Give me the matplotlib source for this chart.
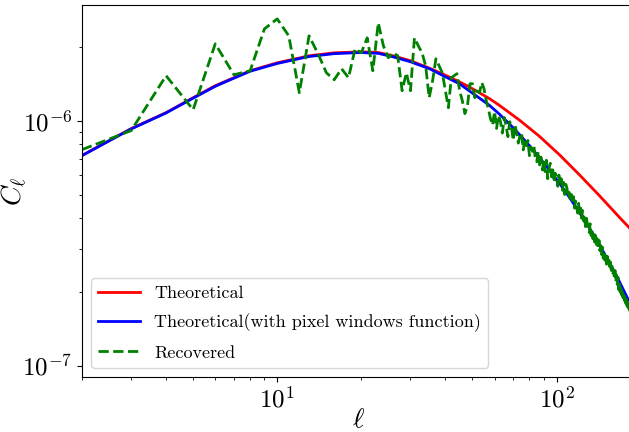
import numpy as np
import matplotlib
matplotlib.use("Agg")
import matplotlib.pyplot as plt

plt.rcParams['font.family'] = 'serif'
plt.rcParams['font.serif'] = ['cmr10', 'DejaVu Serif']
plt.rcParams['mathtext.fontset'] = 'cm'
plt.rcParams['axes.unicode_minus'] = False

# theoretical spectrum
ell_th = [2, 2.5, 3, 4, 5, 6, 7, 8, 10, 12, 13, 16, 20, 23, 26, 30, 35.1, 40,
          44.9, 48.8, 57.5, 62.4, 73.6, 86.9, 102.6, 120.9, 142.6, 168.2, 191]
cl_th = [7.21e-7, 8.29e-7, 9.28e-7, 1.078e-6, 1.24e-6, 1.388e-6, 1.496e-6,
         1.597e-6, 1.721e-6, 1.80e-6, 1.838e-6, 1.89e-6, 1.908e-6, 1.895e-6,
         1.838e-6, 1.754e-6, 1.636e-6, 1.532e-6, 1.439e-6, 1.371e-6,
         1.230e-6, 1.155e-6, 1.006e-6, 8.63e-7, 7.25e-7, 6.01e-7, 4.94e-7,
         4.03e-7, 3.46e-7]

# theoretical with pixel window function
ell_pw = [2, 2.5, 3, 4, 5, 6, 7, 8, 10, 12, 13, 16, 20, 23, 26, 30, 35.1, 40,
          44.9, 57.5, 62.4, 67.8, 73.6, 80, 86.9, 94.4, 102.6, 111.4, 120.9,
          131.4, 142.6, 154.9, 168.2, 181.2, 191]
cl_pw = [7.2e-7, 8.27e-7, 9.25e-7, 1.075e-6, 1.235e-6, 1.38e-6, 1.49e-6,
         1.59e-6, 1.71e-6, 1.79e-6, 1.825e-6, 1.875e-6, 1.895e-6, 1.88e-6,
         1.82e-6, 1.737e-6, 1.627e-6, 1.509e-6, 1.414e-6, 1.155e-6,
         1.064e-6, 9.70e-7, 8.79e-7, 7.91e-7, 7.07e-7, 6.28e-7, 5.54e-7,
         4.86e-7, 4.22e-7, 3.64e-7, 3.11e-7, 2.63e-7, 2.20e-7, 1.85e-7,
         1.64e-7]

# recovered spectrum, l = 2..191, in units of 1e-7
ell_rec = np.arange(2, 192)
cl_rec = [
    7.62, 9.11, 15.24, 11.08, 20.56, 15.38, 15.97, 23.66, 25.98, 22.16,
    12.99, 22.16, 18.73, 15.67, 14.68, 16.27, 14.96, 19.62, 18.90, 21.75,
    15.97, 25.03, 20.18, 18.04, 18.90, 18.38, 13.24, 15.67, 13.24, 21.75,
    20.18, 18.90, 16.73, 12.40, 14.54, 17.87, 16.73, 15.67, 13.24, 11.29,
    14.96, 15.24, 15.53, 13.24, 12.06, 10.68, 11.51, 14.14, 14.14,
    12.4, 13.2, 13.0, 14.3, 13.5, 12.1, 11.2,
    10.2, 9.6, 10.9, 9.3, 10.5, 9.9, 8.9, 10.3, 9.5, 8.6, 9.9, 9.4, 8.3, 9.6, 8.9,
    8.1, 8.7, 8.9, 7.6, 8.4, 7.9, 8.3, 7.2, 7.8, 7.5, 7.9, 7.0, 6.8, 7.5, 6.6,
    7.1, 6.3, 6.9,
    6.2, 6.9, 5.8, 6.4, 6.7, 5.9, 6.3, 5.6, 6.1, 5.9, 5.4, 6.0, 5.5, 5.8, 5.2,
    5.6, 5.0, 5.5, 5.3, 4.9,
    5.1, 4.7, 5.0, 4.6, 4.9, 4.4, 4.7, 4.5, 4.2, 4.6, 4.1, 4.4, 4.0, 4.3, 3.9,
    4.1, 3.7, 4.0, 3.8, 3.6,
    3.5, 3.8, 3.4, 3.6, 3.3, 3.5, 3.2, 3.4, 3.1, 3.3, 3.0, 3.25, 2.95, 3.1, 2.85,
    3.05, 2.75, 2.95, 2.7, 2.85, 2.6, 2.8, 2.55, 2.7, 2.5, 2.65, 2.4, 2.55, 2.35,
    2.45,
    2.3, 2.45, 2.2, 2.35, 2.15, 2.3, 2.05, 2.2, 2.0, 2.1, 1.95, 2.05, 1.9, 2.0,
    1.85, 1.95, 1.8, 1.9, 1.75, 1.85, 1.72, 1.8, 1.68, 1.75, 1.62, 1.7, 1.58,
    1.65, 1.55, 1.6, 1.52,
]

fig = plt.figure(figsize=(6.29, 4.32), dpi=100)
ax = fig.add_axes([82 / 629, 55 / 432, (635 - 82) / 629, (432 - 55 - 5) / 432])

ax.plot(ell_th, cl_th, color='red', lw=2, label='Theoretical')
ax.plot(ell_pw, cl_pw, color='blue', lw=2,
        label='Theoretical(with pixel windows function)')
ax.plot(ell_rec, np.array(cl_rec) * 1e-7, color='green', lw=2,
        linestyle='--', label='Recovered')

ax.set_xscale('log')
ax.set_yscale('log')
ax.set_xlim(2, 191)
ax.set_ylim(9.02e-8, 2.96e-6)
ax.set_xlabel(r'$\ell$', fontsize=20)
ax.set_ylabel(r'$C_\ell$', fontsize=20)
ax.xaxis.set_label_coords(0.5, -0.08)
ax.yaxis.set_label_coords(-0.095, 0.5)
ax.tick_params(axis='both', which='major', labelsize=18)
ax.legend(loc='lower left', fontsize=13, handlelength=2.3, labelspacing=0.7)

fig.savefig('out.png', dpi=100)
